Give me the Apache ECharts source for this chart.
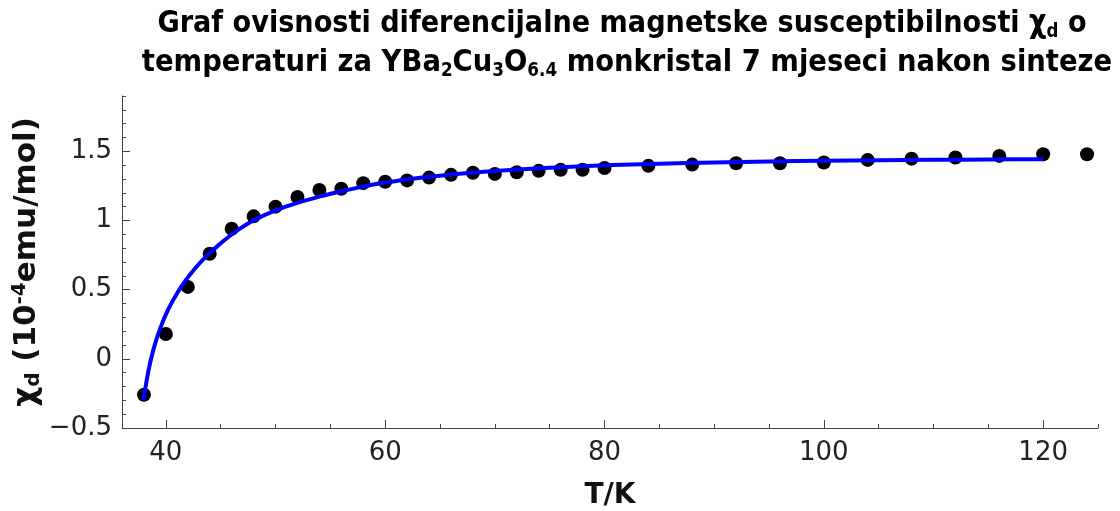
<!DOCTYPE html>
<html>
<head>
<meta charset="utf-8">
<script src="https://cdn.jsdelivr.net/npm/echarts@6/dist/echarts.min.js"></script>
<style>
  html, body { margin: 0; padding: 0; background: #ffffff; }
  #chart { width: 1120px; height: 511px; }
</style>
</head>
<body>
<div id="chart"></div>
<script>
// Measured differential susceptibility (10^-4 emu/mol) vs temperature (K)
const tempK = [38, 40, 42, 44, 46, 48, 50, 52, 54, 56, 58, 60, 62, 64, 66, 68, 70,
               72, 74, 76, 78, 80, 84, 88, 92, 96, 100, 104, 108, 112, 116, 120, 124];
const chiD = [-0.26, 0.18, 0.52, 0.76, 0.94, 1.03, 1.10, 1.17, 1.22, 1.23, 1.27, 1.28, 1.29,
              1.31, 1.33, 1.345, 1.337, 1.349, 1.359, 1.366, 1.366, 1.38, 1.395, 1.404,
              1.414, 1.414, 1.419, 1.438, 1.447, 1.455, 1.467, 1.479, 1.479];

// Fitted curve, sampled
const fitT = [37.95, 38.4, 38.85, 39.45, 40.2, 41, 41.8, 42.7, 43.7, 44.8, 46, 47, 48, 50,
              52, 54, 56, 58, 60, 62, 64, 66, 68, 70, 75, 80, 85, 90, 95, 100, 105, 110, 115, 120];
const fitChi = [-0.30, -0.09, 0.063, 0.213, 0.355, 0.471, 0.567, 0.657, 0.742, 0.822, 0.899, 0.954,
                1.001, 1.073, 1.128, 1.173, 1.211, 1.245, 1.274, 1.297, 1.316, 1.332, 1.346,
                1.358, 1.382, 1.399, 1.411, 1.42, 1.427, 1.432, 1.436, 1.439, 1.441, 1.443];

// Tick positions
const xMajorTicks = [40, 60, 80, 100, 120];
const xMinorTicks = [40, 45, 50, 55, 60, 65, 70, 75, 80, 85, 90, 95, 100, 105, 110, 115, 120, 125];
const yMajorTicks = [-0.5, 0, 0.5, 1, 1.5];
const yMinorTicks = [-0.5, -0.4, -0.3, -0.2, -0.1, 0, 0.1, 0.2, 0.3, 0.4, 0.5, 0.6, 0.7, 0.8,
                     0.9, 1, 1.1, 1.2, 1.3, 1.4, 1.5, 1.6, 1.7, 1.8, 1.9];

const FONT = "'DejaVu Sans', Verdana, sans-serif";
const AXIS_COLOR = '#444';
const LABEL_COLOR = '#222';

const chart = echarts.init(document.getElementById('chart'), null, { renderer: 'canvas' });

const titleRich = {
  b: { fontFamily: FONT, fontWeight: 'bold', fontSize: 31, lineHeight: 36, color: '#000' },
  s: { fontFamily: FONT, fontWeight: 'bold', fontSize: 19, lineHeight: 16, color: '#000', verticalAlign: 'bottom' }
};

const option = {
  backgroundColor: '#ffffff',
  animation: false,
  grid: { left: 122, right: 22, top: 96, bottom: 83, containLabel: false, outerBoundsMode: 'none' },
  graphic: [
    {
      type: 'text', x: 622, y: 24, scaleX: 0.875, z: 10,
      style: {
        text: '{b|Graf ovisnosti diferencijalne magnetske susceptibilnosti χ}{s|d}{b| o}',
        rich: titleRich, align: 'center', verticalAlign: 'middle'
      }
    },
    {
      type: 'text', x: 627, y: 63, scaleX: 0.885, z: 10,
      style: {
        text: '{b|temperaturi za YBa}{s|2}{b|Cu}{s|3}{b|O}{s|6.4}{b| monkristal 7 mjeseci nakon sinteze}',
        rich: titleRich, align: 'center', verticalAlign: 'middle'
      }
    }
  ],
  xAxis: [
    {
      type: 'value', min: 36, max: 125, position: 'bottom',
      axisLine: { show: true, onZero: false, lineStyle: { color: AXIS_COLOR, width: 1 } },
      axisTick: { show: true, inside: true, length: 8, customValues: xMajorTicks,
                  lineStyle: { color: AXIS_COLOR, width: 1 } },
      axisLabel: { show: true, customValues: xMajorTicks, fontFamily: FONT, fontSize: 26,
                   color: LABEL_COLOR, margin: 12 },
      splitLine: { show: false },
      name: 'T/K', nameLocation: 'middle', nameGap: 54, nameMoveOverlap: false,
      nameTextStyle: { fontFamily: FONT, fontWeight: 'bold', fontSize: 28, color: '#111' }
    },
    {
      type: 'value', min: 36, max: 125, position: 'bottom',
      axisLine: { show: false, onZero: false },
      axisTick: { show: true, inside: true, length: 4, customValues: xMinorTicks,
                  lineStyle: { color: AXIS_COLOR, width: 1 } },
      axisLabel: { show: false },
      splitLine: { show: false }
    }
  ],
  yAxis: [
    {
      type: 'value', min: -0.5, max: 1.9, position: 'left',
      axisLine: { show: true, onZero: false, lineStyle: { color: AXIS_COLOR, width: 1 } },
      axisTick: { show: true, inside: true, length: 8, customValues: yMajorTicks,
                  lineStyle: { color: AXIS_COLOR, width: 1 } },
      axisLabel: { show: true, customValues: yMajorTicks, fontFamily: FONT, fontSize: 26,
                   color: LABEL_COLOR, margin: 10,
                   formatter: v => String(v).replace('-', '\u2212') },
      splitLine: { show: false },
      name: '{n|χ}{s|d}{n| (10}{p|-4}{n|emu/mol)}',
      nameLocation: 'middle', nameRotate: 90, nameGap: 78, nameMoveOverlap: false,
      nameTextStyle: {
        rich: {
          n: { fontFamily: FONT, fontWeight: 'bold', fontSize: 31, lineHeight: 34, color: '#111' },
          s: { fontFamily: FONT, fontWeight: 'bold', fontSize: 20, lineHeight: 15, color: '#111', verticalAlign: 'bottom' },
          p: { fontFamily: FONT, fontWeight: 'bold', fontSize: 20, lineHeight: 15, color: '#111', verticalAlign: 'top' }
        }
      }
    },
    {
      type: 'value', min: -0.5, max: 1.9, position: 'left',
      axisLine: { show: false, onZero: false },
      axisTick: { show: true, inside: true, length: 4, customValues: yMinorTicks,
                  lineStyle: { color: AXIS_COLOR, width: 1 } },
      axisLabel: { show: false },
      splitLine: { show: false }
    }
  ],
  series: [
    {
      type: 'scatter', xAxisIndex: 0, yAxisIndex: 0,
      data: tempK.map((t, i) => [t, chiD[i]]),
      symbol: 'circle', symbolSize: 14,
      itemStyle: { color: '#000000', opacity: 1 }, z: 2
    },
    {
      type: 'line', xAxisIndex: 0, yAxisIndex: 0,
      data: fitT.map((t, i) => [t, fitChi[i]]),
      showSymbol: false, smooth: 0.25,
      lineStyle: { color: '#0000ff', width: 4 },
      itemStyle: { color: '#0000ff' }, z: 3
    }
  ]
};

chart.setOption(option);
</script>
</body>
</html>
